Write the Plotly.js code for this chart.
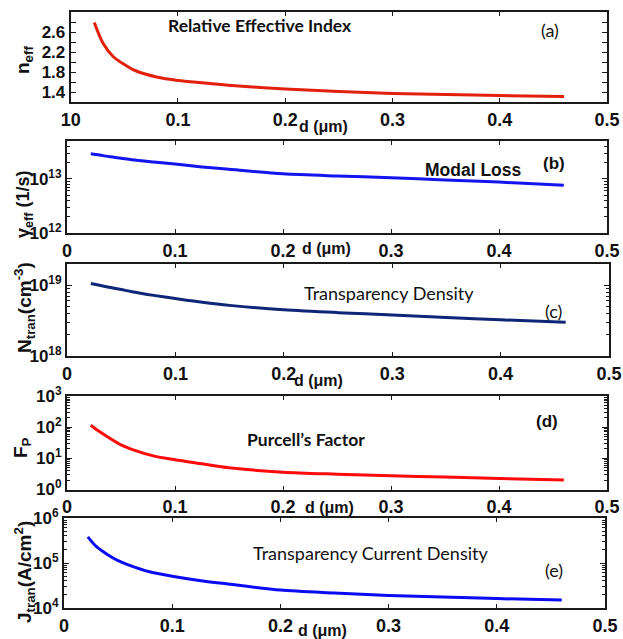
<!DOCTYPE html>
<html>
<head>
<meta charset="utf-8">
<script src="https://cdn.plot.ly/plotly-3.0.1.min.js"></script>
<style>html,body{margin:0;padding:0;background:#fff;}#chart{width:623px;height:639px;}</style>
</head>
<body>
<div id="chart"></div>
<script>
// thickness d (um)
const d = [0.022, 0.03, 0.04, 0.05, 0.06, 0.08, 0.1, 0.125, 0.15, 0.2, 0.25, 0.3, 0.35, 0.4, 0.46];
// (a) relative effective index
const nEff = [2.79, 2.38, 2.10, 1.95, 1.83, 1.70, 1.63, 1.58, 1.53, 1.46, 1.41, 1.37, 1.35, 1.33, 1.31];
// (b) modal loss (1/s)
const gammaEff = [2.9e13, 2.75e13, 2.55e13, 2.4e13, 2.25e13, 2.05e13, 1.88e13, 1.66e13, 1.5e13, 1.24e13, 1.13e13, 1.05e13, 9.5e12, 8.7e12, 7.6e12];
// (c) transparency density (cm^-3)
const nTran = [1.06e19, 1.0e19, 9.3e18, 8.7e18, 8.1e18, 7.2e18, 6.5e18, 5.75e18, 5.2e18, 4.5e18, 4.1e18, 3.8e18, 3.5e18, 3.25e18, 3.0e18];
// (d) Purcell's factor
const fP = [115, 72, 43, 27, 19.5, 12, 9, 6.7, 5.0, 3.6, 3.1, 2.75, 2.5, 2.26, 2.0];
// (e) transparency current density (A/cm^2)
const jTran = [3.8e5, 2.3e5, 1.55e5, 1.13e5, 9.0e4, 6.3e4, 5.1e4, 4.1e4, 3.45e4, 2.5e4, 2.15e4, 1.9e4, 1.75e4, 1.62e4, 1.5e4];

const xTickVals = [0, 0.1, 0.2, 0.3, 0.4, 0.5];
const xTickTextA = ['10', '0.1', '0.2', '0.3', '0.4', '0.5'];
const xTickText = ['0', '0.1', '0.2', '0.3', '0.4', '0.5'];
const nTickVals = [1.4, 1.8, 2.2, 2.6];

const W = 623, H = 639;
const px = x => x / W;
const py = y => 1 - y / H;

function minorLog(lo, hi) {
  const v = [];
  for (let e = lo; e < hi; e++) for (let k = 2; k <= 9; k++) v.push(k * Math.pow(10, e));
  return v;
}
function powLabels(exps) { return exps.map(e => '10<sup>' + e + '</sup>'); }

const AX = '#1a1a1a';
const tickFontX = {family: 'Liberation Sans, Arial, sans-serif', size: 18, color: '#111', weight: 'bold'};
const tickFontY = {family: 'Liberation Sans, Arial, sans-serif', size: 17, color: '#111', weight: 'bold'};

function xaxis(dom, anchor, text) {
  return {
    domain: dom, anchor: anchor, range: [0, 0.5], tickmode: 'array', tickvals: xTickVals, ticktext: text,
    ticks: 'inside', ticklen: 4, tickwidth: 1, tickcolor: AX, showline: true, linecolor: AX, linewidth: 2,
    mirror: 'ticks', showgrid: false, zeroline: false, tickfont: tickFontX, ticklabelstandoff: 0
  };
}
function yLog(dom, anchor, lo, hi, exps) {
  return {
    domain: dom, anchor: anchor, type: 'log', range: [lo, hi], tickmode: 'array',
    tickvals: exps.map(e => Math.pow(10, e)), ticktext: powLabels(exps),
    ticks: 'inside', ticklen: 5, tickwidth: 1, tickcolor: AX, showline: true, linecolor: AX, linewidth: 2,
    mirror: 'ticks', showgrid: false, zeroline: false, tickfont: tickFontY,
    minor: {tickmode: 'array', tickvals: minorLog(Math.floor(lo), Math.ceil(hi)), ticks: 'inside', ticklen: 3, tickwidth: 1, tickcolor: AX, showgrid: false}
  };
}

const traces = [
  {x: d, y: nEff, xaxis: 'x', yaxis: 'y', mode: 'lines', line: {color: '#e3200c', width: 3, shape: 'spline', smoothing: 0.8}},
  {x: d, y: gammaEff, xaxis: 'x2', yaxis: 'y2', mode: 'lines', line: {color: '#1414f0', width: 3, shape: 'spline', smoothing: 0.8}},
  {x: d, y: nTran, xaxis: 'x3', yaxis: 'y3', mode: 'lines', line: {color: '#0f2577', width: 3, shape: 'spline', smoothing: 0.8}},
  {x: d, y: fP, xaxis: 'x4', yaxis: 'y4', mode: 'lines', line: {color: '#ff0a0a', width: 3, shape: 'spline', smoothing: 0.8}},
  {x: d, y: jTran, xaxis: 'x5', yaxis: 'y5', mode: 'lines', line: {color: '#0a0af5', width: 3, shape: 'spline', smoothing: 0.8}}
];

const calibri = {family: 'Lato, Open Sans, sans-serif', size: 18, color: '#111'};
const calibriB = {family: 'Lato, Open Sans, sans-serif', size: 17.5, color: '#111', weight: 'bold'};
const arialB = {family: 'Liberation Sans, Arial, sans-serif', size: 16, color: '#111', weight: 'bold'};
const titleFont = {family: 'Liberation Sans, Arial, sans-serif', size: 19, color: '#111', weight: 'bold'};

function ann(text, x, y, font, extra) {
  return Object.assign({text: text, x: px(x), y: py(y), xref: 'paper', yref: 'paper', showarrow: false,
    xanchor: 'center', yanchor: 'middle', font: font}, extra || {});
}

const annotations = [
  ann('Relative Effective Index', 260, 25, calibriB),
  ann('(a)', 550, 30, calibri),
  ann('Modal Loss', 473, 170, Object.assign({}, arialB, {size: 17.5})),
  ann('(b)', 554, 163, Object.assign({}, arialB, {size: 17})),
  ann('Transparency Density', 389, 293, calibri),
  ann('(c)', 553, 311, calibri),
  ann('Purcell\u2019s Factor', 306, 439, calibriB),
  ann('(d)', 547, 421, Object.assign({}, arialB, {size: 17})),
  ann('Transparency Current Density', 370, 553, calibri),
  ann('(e)', 554, 570, calibri),
  ann('d (\u03bcm)', 323, 127, arialB),
  ann('d (\u03bcm)', 326, 248, arialB),
  ann('d (\u03bcm)', 318, 381, arialB),
  ann('d (\u03bcm)', 330, 507, arialB),
  ann('d (\u03bcm)', 322, 630, arialB),
  ann('n<sub>eff</sub>', 24, 60, titleFont, {textangle: -90}),
  ann('\u03b3<sub>eff</sub> (1/s)', 25, 205, Object.assign({}, titleFont, {size: 18}), {textangle: -90}),
  ann('N<sub>tran</sub>(cm<sup>-3</sup>)', 24, 308, titleFont, {textangle: -90}),
  ann('F<sub>P</sub>', 22, 448, titleFont, {textangle: -90}),
  ann('J<sub>tran</sub>(A/cm<sup>2</sup>)', 24, 572, titleFont, {textangle: -90})
];

const layout = {
  width: W, height: H, margin: {l: 0, r: 0, t: 0, b: 0}, showlegend: false,
  paper_bgcolor: '#fff', plot_bgcolor: '#fff',
  xaxis: xaxis([px(70.7), px(607)], 'y', xTickTextA),
  yaxis: {
    domain: [py(102), py(12)], anchor: 'x', range: [1.2, 3.0], tickmode: 'array', tickvals: nTickVals,
    ticks: 'inside', ticklen: 5, tickwidth: 1, tickcolor: AX, showline: true, linecolor: AX, linewidth: 2,
    mirror: 'ticks', showgrid: false, zeroline: false, tickfont: tickFontY,
    minor: {tickmode: 'array', tickvals: [1.2, 1.6, 2.0, 2.4, 2.8], ticks: 'inside', ticklen: 5, tickwidth: 1, tickcolor: AX, showgrid: false}
  },
  xaxis2: xaxis([px(67), px(607)], 'y2', xTickText),
  yaxis2: yLog([py(233), py(141)], 'x2', 12, Math.log10(5e13), [12, 13]),
  xaxis3: xaxis([px(67), px(609)], 'y3', xTickText),
  yaxis3: yLog([py(356), py(264)], 'x3', 18, Math.log10(2e19), [18, 19]),
  xaxis4: xaxis([px(67), px(607)], 'y4', xTickText),
  yaxis4: yLog([py(489.5), py(396)], 'x4', 0, 3, [0, 1, 2, 3]),
  xaxis5: xaxis([px(64), px(605)], 'y5', xTickText),
  yaxis5: yLog([py(608), py(518)], 'x5', 4, 6, [4, 5, 6]),
  annotations: annotations
};

Plotly.newPlot('chart', traces, layout, {staticPlot: true, displayModeBar: false});
</script>
</body>
</html>
